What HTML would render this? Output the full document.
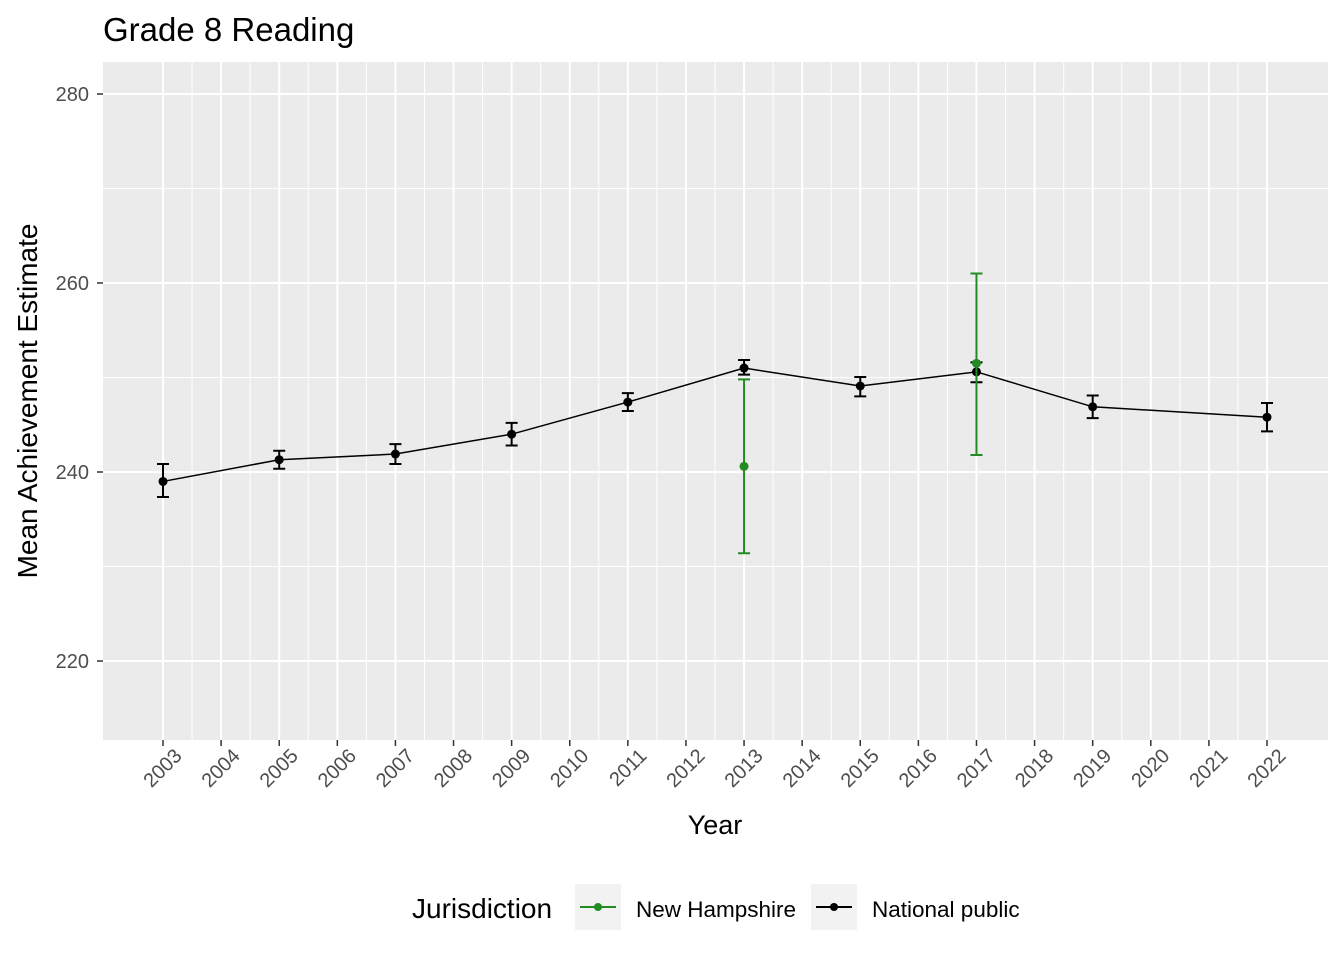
<!DOCTYPE html>
<html><head><meta charset="utf-8"><style>
body{margin:0;background:#fff;width:1344px;height:960px;overflow:hidden;font-family:"Liberation Sans",Arial,sans-serif}
</style></head><body>
<svg id="chart" width="1344" height="960" xmlns="http://www.w3.org/2000/svg" font-family="Liberation Sans, Arial, sans-serif">
<text x="103" y="41" font-size="33">Grade 8 Reading</text>
<rect x="103" y="62" width="1225" height="678" fill="#ebebeb"/>
<g id="grid"></g><g id="axes"></g><g id="marks"></g>
<text x="715" y="834" font-size="27" text-anchor="middle">Year</text>
<text transform="translate(37,401) rotate(-90)" font-size="28" text-anchor="middle">Mean Achievement Estimate</text>
<g>
<text x="412" y="918" font-size="28">Jurisdiction</text>
<g>
<rect x="575" y="884" width="46" height="46" fill="#f2f2f2"/>
<line x1="580" y1="907" x2="616" y2="907" stroke="#228b22" stroke-width="2"/>
<circle cx="598" cy="907" r="4" fill="#228b22"/>
<text x="636" y="917" font-size="22.5">New Hampshire</text></g>
<g>
<rect x="811" y="884" width="46" height="46" fill="#f2f2f2"/>
<line x1="816" y1="907" x2="852" y2="907" stroke="#000" stroke-width="2"/>
<circle cx="834" cy="907" r="4" fill="#000"/>
<text x="872" y="917" font-size="22.5">National public</text></g>
</g>
</svg>
<script>
const years=[2003,2004,2005,2006,2007,2008,2009,2010,2011,2012,2013,2014,2015,2016,2017,2018,2019,2020,2021,2022];
const yTicks=[220,240,260,280];
const natYears=[2003,2005,2007,2009,2011,2013,2015,2017,2019,2022];
const natVals=[239.0,241.3,241.9,244.0,247.4,251.0,249.1,250.6,246.9,245.8];
const natLo=[237.35,240.35,240.85,242.8,246.45,250.3,248.0,249.5,245.7,244.3];
const natHi=[240.85,242.25,242.95,245.2,248.35,251.85,250.05,251.6,248.1,247.3];
const nhYears=[2013,2017];
const nhVals=[240.6,251.5];
const nhLo=[231.4,241.8];
const nhHi=[249.8,261.0];
const NS="http://www.w3.org/2000/svg";
const X=y=>163+(y-2003)*(1104/19);
const Y=v=>472-(v-240)*9.45;
function el(t,a,p){const e=document.createElementNS(NS,t);for(const k in a)e.setAttribute(k,a[k]);p.appendChild(e);return e;}
const grid=document.getElementById('grid'),axes=document.getElementById('axes'),marks=document.getElementById('marks');
for(let v=210;v<=285;v+=10){const y=Y(v);if(y<62||y>740)continue;const major=v%20===0;
 const l=el('line',{x1:103,x2:1328,y1:y,y2:y,stroke:'#fff','stroke-width':major?2:1},grid);
 
 }
for(let i=0;i<years.length;i++){const x=X(years[i]);
 const l=el('line',{x1:x,x2:x,y1:62,y2:740,stroke:'#fff','stroke-width':2},grid);
 
 
 if(i<years.length-1){const m=(x+X(years[i+1]))/2;
  const l2=el('line',{x1:m,x2:m,y1:62,y2:740,stroke:'#fff','stroke-width':1},grid);
  
  }
 const t=el('line',{x1:x,x2:x,y1:740,y2:746,stroke:'#333','stroke-width':1.5},axes);
 
 
 const tx=el('text',{x:x+20,y:757,'font-size':20,fill:'#4d4d4d','text-anchor':'end',transform:`rotate(-45 ${x+20} 757)`},axes);
 tx.textContent=years[i];
 
 }
for(const v of yTicks){const y=Y(v);
 const t=el('line',{x1:97,x2:103,y1:y,y2:y,stroke:'#333','stroke-width':1.5},axes);
 
 
 const tx=el('text',{x:89,y:y+7,'font-size':20,fill:'#4d4d4d','text-anchor':'end'},axes);
 tx.textContent=v;
 
 }
function series(ys,vals,lo,hi,col,name,line){
 if(line){const p=el('polyline',{points:ys.map((y,i)=>X(y)+','+Y(vals[i])).join(' '),fill:'none',stroke:col,'stroke-width':1.5},marks);
  
  }
 ys.forEach((yr,i)=>{const x=X(yr);
  const g=el('path',{d:`M${x-6},${Y(hi[i])}H${x+6}M${x},${Y(hi[i])}V${Y(lo[i])}M${x-6},${Y(lo[i])}H${x+6}`,stroke:col,'stroke-width':2,fill:'none'},marks);
  
  
  const c=el('circle',{cx:x,cy:Y(vals[i]),r:4.5,fill:col},marks);
  
  });}
series(natYears,natVals,natLo,natHi,'#000','national-public',true);
series(nhYears,nhVals,nhLo,nhHi,'#228b22','new-hampshire',false);
</script>
</body></html>
